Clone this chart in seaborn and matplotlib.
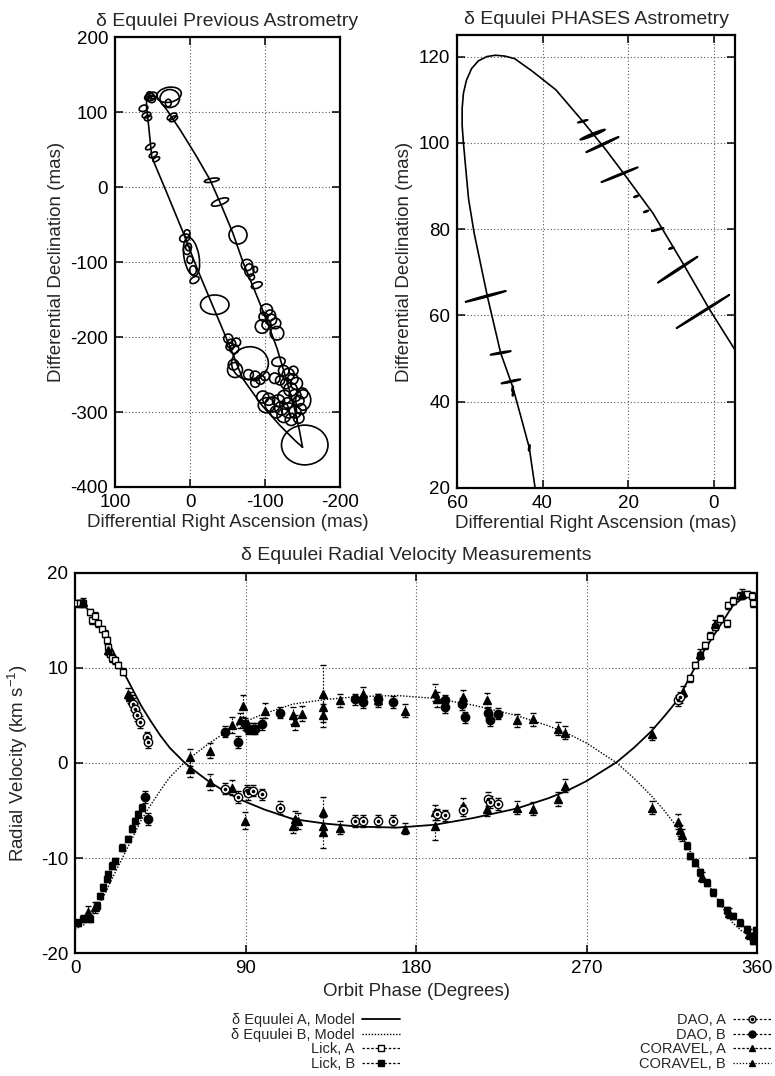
import matplotlib
matplotlib.use("Agg")
import matplotlib.pyplot as plt
from matplotlib.patches import Ellipse
from matplotlib.lines import Line2D
from matplotlib.legend_handler import HandlerTuple
import seaborn as sns

# ---------------- Previous astrometry (top left) ----------------
prev_orbit_ra = [-150, -140, -120, -95, -70, -52, -31, -10, 9, 30, 51, 55, 58, 58, 56, 52, 47, 44,
                 31, 13, -8, -27, -42, -57, -71, -87, -102, -116, -128, -138, -146, -150]
prev_orbit_dec = [-347, -338, -318, -290, -255, -210, -160, -110, -61, -10, 40, 80, 107, 113, 118, 121, 121, 120,
                  103, 76, 42, 9, -25, -61, -101, -140, -177, -215, -255, -290, -325, -347]

prev_ra = [53, 49, 51, 56, 54, 28, 27, 29, 24, 22, 62, 58, 56, 53, 49, 45, -29, -40, -64,
           -76, -79, -82, -87, -89, -102, -107, -98, -96, -108, -114, -116, -102,
           7, 4, -2, 4, 2, 0, -4, -6, -33, -51, -55, -59, -53, -62, -60, -58, -80,
           -78, -87, -94, -87, -100,
           -118, -125, -131, -137, -142, -128, -120, -113, -134, -140, -145, -126, -118, -110, -122,
           -132, -140, -148, -115, -125, -135, -145, -105, -150, -138, -151, -102, -97, -130, -153]
prev_dec = [120, 122, 117, 119, 123, 123, 118, 112, 94, 91, 105, 96, 92, 54, 43, 37, 9, -20, -64,
            -104, -111, -120, -110, -131, -164, -171, -173, -186, -177, -182, -195, -184,
            -68, -84, -93, -62, -80, -97, -111, -124, -157, -202, -209, -216, -213, -207, -244, -237, -235,
            -250, -252, -257, -261, -252,
            -233, -245, -250, -256, -262, -262, -258, -255, -270, -278, -285, -280, -285, -290, -295,
            -298, -300, -296, -300, -305, -310, -308, -283, -275, -245, -284, -291, -280, -288, -344]
prev_w = [12, 11, 10, 9, 8, 33, 26, 8, 7, 6, 8, 7, 7, 6, 6, 5, 20, 24, 24,
          15, 12, 8, 6, 15, 16, 14, 12, 18, 15, 14, 18, 12,
          10, 10, 20, 8, 8, 8, 9, 8, 38, 12, 12, 12, 10, 11, 20, 14, 49,
          13, 13, 12, 12, 12,
          18, 14, 16, 14, 16, 14, 12, 14, 18, 16, 14, 18, 16, 20, 18,
          20, 16, 14, 16, 18, 16, 14, 16, 14, 12, 20, 22, 16, 14, 62]
prev_h = [10, 9, 9, 8, 8, 20, 24, 10, 14, 12, 12, 12, 10, 14, 12, 10, 5, 8, 24,
          15, 17, 8, 8, 8, 16, 14, 12, 18, 15, 14, 18, 12,
          14, 12, 52, 10, 10, 10, 12, 13, 26, 12, 12, 12, 10, 11, 20, 14, 44,
          13, 13, 12, 12, 12,
          12, 14, 16, 14, 16, 14, 12, 14, 18, 16, 14, 18, 16, 20, 18,
          20, 16, 14, 16, 18, 16, 14, 16, 14, 12, 27, 20, 16, 14, 53]
prev_ang = [0, 0, 0, 0, 0, 10, 0, 0, -60, -60, -70, -70, -70, -60, -60, -60, 10, 20, 0,
            0, 0, 0, 0, 20, 0, 0, 0, 0, 0, 0, 0, 0,
            -70, 0, 10, 0, 0, 0, 0, -60, 0, 0, 0, 0, 0, 0, 0, 0, 0,
            0, 0, 0, 0, 0,
            10, 0, 0, 0, 0, 0, 0, 0, 0, 0, 0, 0, 0, 0, 0,
            0, 0, 0, 0, 0, 0, 0, 0, 0, 0, 0, 0, 0, 0, 0]

# ---------------- PHASES astrometry (top right) ----------------
phases_orbit_ra = [41.6, 43.1, 45.2, 47.0, 49.8, 52.9, 56.0, 57.3, 58.0, 58.5, 58.8, 58.8, 58.5, 57.8,
                   56.6, 55.0, 53.0, 51.0, 48.8, 46.5, 42.4, 36.9, 30.6, 25.2, 20.5, 14.2, 7.2, 0.9, -5.0]
phases_orbit_dec = [19.0, 29.3, 37.0, 43.5, 51.3, 64.4, 79.1, 87.0, 94.5, 100.0, 104.0, 108.0, 111.5, 114.5,
                    117.2, 119.0, 120.0, 120.3, 120.1, 119.5, 116.6, 112.3, 105.0, 98.4, 92.2, 83.7, 72.1,
                    61.3, 52.0]

phases_ra = [30.6, 28.3, 26.0, 22.0, 18.1, 15.8, 13.1, 9.9, 8.4, 2.5, 53.3, 49.8, 47.4, 47.0, 46.9, 43.1]
phases_dec = [105.0, 101.9, 99.6, 92.6, 87.6, 84.1, 79.9, 75.6, 70.6, 60.9, 64.4, 51.3, 44.7, 43.0, 41.9, 29.3]
phases_major = [2.4, 6.3, 8.6, 9.4, 1.2, 1.2, 3.0, 1.2, 11.3, 14.8, 10.0, 5.0, 4.7, 1.2, 1.2, 1.4]
phases_minor = [0.3, 0.6, 0.4, 0.35, 0.3, 0.3, 0.3, 0.3, 0.4, 0.35, 0.4, 0.35, 0.35, 0.3, 0.3, 0.3]
phases_ang = [15, 22, 25, 22, 20, 20, 15, 20, 33, 32, 15, 10, 12, 80, 80, 80]

# ---------------- Radial velocities (bottom) ----------------
model_phase = [0, 5, 10, 15, 20, 25, 30, 35, 40, 45, 50, 58, 65, 71, 80, 89, 100, 115, 133, 150, 170,
               190, 210, 233, 250, 260, 270, 286, 295, 304, 311, 318, 326, 332, 339, 347, 352, 355, 358, 360]
model_a = [17.1, 16.6, 15.3, 13.8, 11.8, 9.8, 7.9, 6.0, 4.4, 2.9, 1.6, 0.0, -1.1, -2.0, -3.1, -4.0, -4.9,
           -5.9, -6.4, -6.7, -6.8, -6.5, -5.8, -4.8, -3.7, -2.9, -1.9, 0.1, 1.6, 3.3, 4.9, 6.6, 9.6, 11.8,
           14.0, 16.5, 17.3, 17.5, 17.4, 17.1]
model_b = [-17.5, -17.0, -15.6, -14.1, -12.0, -10.0, -8.0, -6.0, -4.4, -2.9, -1.5, 0.1, 1.2, 2.1, 3.3,
           4.3, 5.2, 6.2, 6.7, 7.0, 7.1, 6.8, 6.1, 5.0, 3.9, 3.1, 2.1, 0.0, -1.6, -3.4, -5.0, -6.8, -9.8,
           -12.0, -14.3, -16.8, -17.7, -18.0, -17.9, -17.5]

lick_a_phase = [0.9, 2.6, 4.4, 7.9, 8.8, 10.6, 12.3, 14.1, 15.8, 16.7, 17.6, 18.5, 19.4, 21.1, 22.9, 25.5,
                324.6, 327.3, 329.9, 332.5, 335.2, 337.8, 340.4, 344.0, 344.8, 347.5, 351.0, 354.5, 357.2, 358.0]
lick_a_rv = [16.8, 16.8, 16.8, 15.9, 15.0, 15.5, 14.7, 14.1, 13.6, 12.9, 12.2, 11.5, 11.0, 10.8, 10.3, 9.6,
             8.9, 10.3, 11.3, 12.4, 13.4, 14.3, 15.2, 14.7, 16.6, 17.1, 17.6, 17.8, 17.6, 16.8]
lick_b_phase = [1.8, 4.4, 7.9, 11.4, 13.2, 15.0, 16.7, 17.6, 19.4, 21.1, 24.6, 28.2, 29.9, 31.7, 33.4, 35.2,
                322.9, 324.6, 327.3, 329.9, 333.4, 336.9, 340.4, 344.0, 347.5, 351.0, 354.5, 357.2, 358.0, 359.3]
lick_b_rv = [-16.8, -16.4, -16.4, -15.0, -14.0, -13.1, -12.2, -11.7, -10.8, -10.3, -8.9, -8.0, -6.9, -6.1,
             -5.4, -4.7, -8.7, -9.8, -10.5, -11.5, -12.6, -13.6, -14.7, -15.5, -16.1, -16.8, -17.5, -18.2,
             -18.7, -17.6]
lick_err = 0.35

dao_a_phase = [30.8, 31.7, 32.6, 34.3, 37.8, 38.7, 79.2, 86.2, 90.6, 91.5, 94.1, 98.5, 108.2, 147.8, 152.2,
               160.1, 168.0, 190.9, 195.3, 205.0, 218.2, 219.0, 223.4, 318.5, 319.3]
dao_a_rv = [6.2, 5.7, 5.0, 4.3, 2.7, 2.2, -2.7, -3.6, -2.9, -3.2, -2.9, -3.3, -4.7, -6.1, -6.1, -6.1, -6.1,
            -5.4, -5.5, -5.0, -3.8, -4.1, -4.3, 6.6, 6.9]
dao_a_err = [0.6, 0.6, 0.6, 0.6, 0.6, 0.6, 0.6, 0.6, 0.6, 0.7, 0.6, 0.6, 0.7, 0.6, 0.6, 0.6, 0.6, 0.6, 0.6,
             0.6, 0.7, 0.6, 0.6, 0.6, 0.6]
dao_b_phase = [37.0, 38.7, 79.2, 86.2, 89.7, 91.5, 94.1, 95.0, 98.5, 108.2, 147.8, 152.2, 160.1, 168.0,
               195.3, 195.3, 204.1, 205.8, 218.2, 219.0, 223.4]
dao_b_rv = [-3.6, -5.9, 3.3, 2.2, 4.1, 3.6, 3.6, 3.6, 4.1, 5.3, 6.7, 6.4, 6.7, 6.4, 6.6, 5.9, 6.2, 4.8, 5.3,
            4.5, 5.2]
dao_b_err = [0.6, 0.6, 0.6, 0.6, 0.6, 0.6, 0.6, 0.6, 0.6, 0.6, 0.6, 0.6, 0.6, 0.6, 0.6, 0.6, 0.6, 0.6, 0.6,
             0.6, 0.6]

coravel_a_phase = [4.4, 17.6, 28.2, 29.0, 29.9, 60.7, 71.3, 82.7, 89.7, 115.3, 116.1, 117.9, 131.1, 131.1,
                   131.1, 139.9, 174.2, 190.0, 190.0, 205.0, 217.3, 233.1, 241.9, 255.1, 258.6, 304.4, 321.1,
                   330.0, 338.0, 352.0]
coravel_a_rv = [16.9, 11.9, 7.3, 6.9, 6.6, -0.6, -2.0, -2.6, -6.1, -6.6, -5.9, -6.1, -5.2, -6.6, -7.3, -6.8,
                -6.9, -5.2, -6.6, -4.5, -4.8, -4.7, -4.8, -3.8, -2.4, 3.1, 7.5, 11.5, 14.6, 17.8]
coravel_a_err = [0.5, 0.5, 0.6, 0.6, 0.6, 0.9, 0.8, 0.8, 0.9, 0.8, 0.8, 0.8, 1.6, 0.9, 1.6, 0.7, 0.6, 0.8,
                 1.5, 0.8, 0.8, 0.7, 0.7, 0.7, 0.7, 0.7, 0.6, 0.5, 0.5, 0.5]
coravel_b_phase = [7.0, 10.6, 60.7, 71.3, 82.7, 87.1, 88.9, 100.3, 115.3, 116.1, 119.7, 131.1, 131.1, 131.1,
                   139.9, 152.2, 160.1, 174.2, 190.0, 190.9, 205.0, 217.3, 233.1, 241.9, 255.1, 258.6, 304.4,
                   318.5, 319.3, 320.2, 331.0, 345.0, 356.0]
coravel_b_rv = [-15.7, -15.2, 0.6, 1.3, 4.0, 4.5, 6.0, 5.5, 5.0, 4.3, 5.2, 7.3, 5.9, 5.0, 6.6, 7.3, 6.6, 5.5,
                7.4, 6.7, 6.9, 6.6, 4.5, 4.6, 3.6, 3.2, -4.7, -6.2, -7.1, -7.6, -12.0, -15.8, -18.0]
coravel_b_err = [0.6, 0.6, 0.9, 0.8, 0.8, 0.8, 1.2, 0.8, 0.9, 0.8, 0.8, 3.0, 1.0, 1.2, 0.7, 0.7, 0.7, 0.7,
                 0.9, 0.8, 0.8, 0.8, 0.7, 0.7, 0.7, 0.7, 0.7, 0.8, 0.6, 0.6, 0.5, 0.5, 0.5]

# ---------------- style ----------------
sns.set_style("ticks")
plt.rcParams['font.family'] = ['Liberation Sans', 'DejaVu Sans']
plt.rcParams['axes.unicode_minus'] = False
plt.rcParams['mathtext.fontset'] = 'custom'
plt.rcParams['mathtext.rm'] = 'Liberation Sans'
plt.rcParams['mathtext.it'] = 'Liberation Sans:italic'
FS = 13.5
TFS = 14

fig = plt.figure(figsize=(7.75, 10.76), dpi=100)
ax1 = fig.add_axes([0.1484, 0.5474, 0.2903, 0.4182])
ax2 = fig.add_axes([0.5897, 0.5465, 0.3587, 0.4210])
ax3 = fig.add_axes([0.0968, 0.1143, 0.8800, 0.3532])


def style(ax):
    ax.tick_params(direction='in', top=True, right=True, length=6, width=1.1, labelsize=FS, pad=5,
                   colors='black')
    for s in ax.spines.values():
        s.set_linewidth(1.6)
        s.set_color('black')
    ax.grid(True, linestyle=(0, (1, 2)), color='0.35', linewidth=0.8)
    ax.set_axisbelow(True)


# Top-left
sns.lineplot(x=prev_orbit_ra, y=prev_orbit_dec, sort=False, estimator=None, color='black', lw=1.2, ax=ax1)
for ra, dec, w, h, a in zip(prev_ra, prev_dec, prev_w, prev_h, prev_ang):
    ax1.add_patch(Ellipse((ra, dec), width=w, height=h, angle=-a, fill=False, ec='black', lw=1.2))
ax1.set_xlim(100, -200)
ax1.set_ylim(-400, 200)
ax1.set_xticks([100, 0, -100, -200])
ax1.set_yticks([-400, -300, -200, -100, 0, 100, 200])
style(ax1)
ax1.set_xlabel('Differential Right Ascension (mas)', fontsize=FS, labelpad=2)
ax1.set_ylabel('Differential Declination (mas)', fontsize=FS, labelpad=4)
ax1.set_title('δ Equulei Previous Astrometry', fontsize=TFS, pad=8)

# Top-right
sns.lineplot(x=phases_orbit_ra, y=phases_orbit_dec, sort=False, estimator=None, color='black', lw=1.2, ax=ax2)
for ra, dec, w, h, a in zip(phases_ra, phases_dec, phases_major, phases_minor, phases_ang):
    ax2.add_patch(Ellipse((ra, dec), width=w, height=h, angle=-a, fc='black', ec='black', lw=1.1))
ax2.set_xlim(60, -5)
ax2.set_ylim(20, 125)
ax2.set_xticks([60, 40, 20, 0])
ax2.set_yticks([20, 40, 60, 80, 100, 120])
style(ax2)
ax2.set_xlabel('Differential Right Ascension (mas)', fontsize=FS, labelpad=2)
ax2.set_ylabel('Differential Declination (mas)', fontsize=FS, labelpad=4)
ax2.set_title('δ Equulei PHASES Astrometry', fontsize=TFS, pad=8)

# Bottom
sns.lineplot(x=model_phase, y=model_a, sort=False, estimator=None, color='black', lw=1.3, ax=ax3)
sns.lineplot(x=model_phase, y=model_b, sort=False, estimator=None, color='black', lw=1.0,
             linestyle=(0, (1, 1.2)), ax=ax3)


def eb(ph, rv, err, marker, mfc, ms):
    c = ax3.errorbar(ph, rv, yerr=err, fmt=marker, mfc=mfc, mec='black', color='black', ms=ms, mew=1.0,
                     elinewidth=0.8, capsize=2.2, capthick=0.8, zorder=3)
    for ln in c[2]:
        ln.set_linestyle((0, (1.5, 1.5)))
    return c


eb(lick_a_phase, lick_a_rv, lick_err, 's', 'white', 5)
eb(lick_b_phase, lick_b_rv, lick_err, 's', 'black', 5)
eb(coravel_a_phase, coravel_a_rv, coravel_a_err, '^', 'black', 6)
eb(coravel_b_phase, coravel_b_rv, coravel_b_err, '^', 'black', 6)
eb(dao_a_phase, dao_a_rv, dao_a_err, 'o', 'white', 6)
ax3.plot(dao_a_phase, dao_a_rv, linestyle='none', marker='o', ms=1.6, color='black', zorder=4)
eb(dao_b_phase, dao_b_rv, dao_b_err, 'o', 'black', 6)

ax3.set_xlim(0, 360)
ax3.set_ylim(-20, 20)
ax3.set_xticks([0, 90, 180, 270, 360])
ax3.set_yticks([-20, -10, 0, 10, 20])
style(ax3)
ax3.set_xlabel('Orbit Phase (Degrees)', fontsize=FS, labelpad=4)
ax3.set_ylabel('Radial Velocity (km s$^{-1}$)', fontsize=FS, labelpad=8)
ax3.set_title('δ Equulei Radial Velocity Measurements', fontsize=TFS, pad=9)

# Legends
def h(marker, mfc, ls=(0, (2, 1.5)), ms=5):
    return Line2D([], [], color='black', lw=0.9, linestyle=ls, marker=marker, mfc=mfc, mec='black', ms=ms)


dot = Line2D([], [], linestyle='none', marker='o', ms=1.6, color='black')
left_handles = [Line2D([], [], color='black', lw=1.3),
                Line2D([], [], color='black', lw=1.0, linestyle=(0, (1, 1.2))),
                h('s', 'white'), h('s', 'black')]
left_labels = ['δ Equulei A, Model', 'δ Equulei B, Model', 'Lick, A', 'Lick, B']
right_handles = [(h('o', 'white'), dot), h('o', 'black'), h('^', 'black'), h('^', 'black', ls=(0, (1, 1.5)))]
right_labels = ['DAO, A', 'DAO, B', 'CORAVEL, A', 'CORAVEL, B']
common = dict(loc='upper right', frameon=False, markerfirst=False, handlelength=2.6, labelspacing=0.05,
              handletextpad=0.5, borderpad=0, borderaxespad=0, prop={'size': 10.5})
fig.legend(left_handles, left_labels, bbox_to_anchor=(400 / 775, 1 - 1013 / 1076), **common)
fig.legend(right_handles, right_labels, bbox_to_anchor=(771 / 775, 1 - 1013 / 1076),
           handler_map={tuple: HandlerTuple(ndivide=1, pad=0)}, **common)

fig.savefig('out.png', dpi=100, facecolor='white')
